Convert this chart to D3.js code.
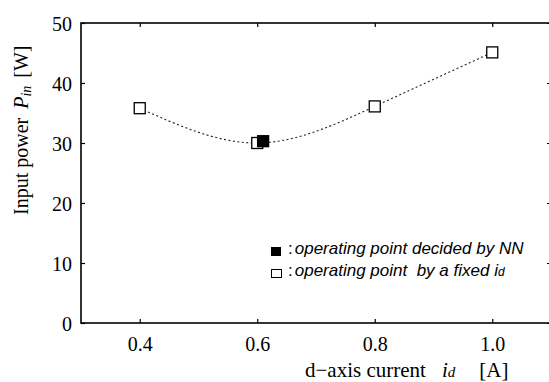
<!DOCTYPE html>
<html>
<head>
<meta charset="utf-8">
<script src="https://cdn.jsdelivr.net/npm/d3@7"></script>
<style>
  body { margin: 0; background: #fff; }
  svg { display: block; }
  text { white-space: pre; }
</style>
</head>
<body>
<div id="chart-area"></div>
<script>
// d-axis current [A] and input power [W]
var currents   = [0.4, 0.6, 0.8, 1.0];
var powers     = [35.8, 30.0, 36.1, 45.1];
// operating point decided by NN
var nnCurrent  = [0.61];
var nnPower    = [30.3];

var xTicks = [0.4, 0.6, 0.8, 1.0];
var yTicks = [0, 10, 20, 30, 40, 50];
var legendLabels = ["operating point decided by NN", "operating point  by a fixed "];

var svgWidth = 549, svgHeight = 382;
var margin = { top: 23, left: 81, bottom: 59, right: -2 };
var width  = svgWidth - margin.left - margin.right;
var height = svgHeight - margin.top - margin.bottom;

var svg = d3.select("#chart-area").append("svg")
            .attr("width", svgWidth)
            .attr("height", svgHeight);

var g = svg.append("g")
           .attr("transform", "translate(" + margin.left + "," + margin.top + ")");

var x = d3.scaleLinear().domain([0.3, 1.1]).range([0, width]);
var y = d3.scaleLinear().domain([0, 50]).range([height, 0]);

var serif = "'Liberation Serif', 'Times New Roman', serif";
var sans  = "'Liberation Sans', Arial, sans-serif";

// frame
g.append("rect")
 .attr("width", width).attr("height", height)
 .attr("fill", "none").attr("stroke", "#000").attr("stroke-width", 1.6);

// axes with inward ticks
var bottomAxis = g.append("g")
    .attr("transform", "translate(0," + height + ")")
    .call(d3.axisBottom(x).tickValues(xTicks).tickSizeInner(-4).tickSizeOuter(0)
            .tickPadding(14).tickFormat(d3.format(".1f")));
var topAxis = g.append("g")
    .call(d3.axisTop(x).tickValues(xTicks).tickSizeInner(-4).tickSizeOuter(0).tickFormat(""));
var leftAxis = g.append("g")
    .call(d3.axisLeft(y).tickValues(yTicks).tickSizeInner(-4).tickSizeOuter(0).tickPadding(9));
var rightAxis = g.append("g")
    .attr("transform", "translate(" + width + ",0)")
    .call(d3.axisRight(y).tickValues(yTicks).tickSizeInner(-4).tickSizeOuter(0).tickFormat(""));

[bottomAxis, topAxis, leftAxis, rightAxis].forEach(function(a) {
    a.select(".domain").remove();
    a.selectAll("line").attr("stroke", "#000").attr("stroke-width", 1.2);
    a.selectAll("text").attr("font-family", serif).attr("font-size", "20px").attr("fill", "#000");
});
leftAxis.selectAll("text").attr("dy", "0.35em");

// y-axis title (rotated, reads bottom to top)
var yTitle = svg.append("text")
    .attr("transform", "translate(28,215) rotate(-90)")
    .attr("text-anchor", "start")
    .attr("font-family", serif).attr("font-size", "20px");
yTitle.append("tspan").text("Input power");
yTitle.append("tspan").attr("dx", 9).attr("font-style", "italic").text("P");
yTitle.append("tspan").attr("font-style", "italic").attr("font-size", "14px").attr("dy", "3").text("in");
yTitle.append("tspan").attr("dx", 8).attr("dy", "-3").text("[W]");

// x-axis title
var xTitle = svg.append("text")
    .attr("x", 305).attr("y", 377)
    .attr("font-family", serif).attr("font-size", "21px");
xTitle.append("tspan").text("d\u2212axis current");
xTitle.append("tspan").attr("dx", 16).attr("font-style", "italic").text("i");
xTitle.append("tspan").attr("font-style", "italic").attr("font-size", "15px").text("d");
xTitle.append("tspan").attr("dx", 24).text("[A]");

// dotted curve through the fixed-id points
var pts = currents.map(function(c, i) { return [c, powers[i]]; });
var line = d3.line()
    .x(function(d) { return x(d[0]); })
    .y(function(d) { return y(d[1]); })
    .curve(d3.curveNatural);
g.append("path")
 .datum(pts)
 .attr("d", line)
 .attr("fill", "none")
 .attr("stroke", "#222")
 .attr("stroke-width", 1.1)
 .attr("stroke-dasharray", "2,2.5");

var sq = 11;
// open squares
g.selectAll(".open").data(pts).enter().append("rect")
 .attr("class", "open")
 .attr("x", function(d) { return x(d[0]) - sq / 2; })
 .attr("y", function(d) { return y(d[1]) - sq / 2; })
 .attr("width", sq).attr("height", sq)
 .attr("fill", "#fff").attr("stroke", "#000").attr("stroke-width", 1.3);

// filled square (NN)
g.selectAll(".nn").data(nnCurrent).enter().append("rect")
 .attr("class", "nn")
 .attr("x", function(d) { return x(d) - sq / 2; })
 .attr("y", function(d, i) { return y(nnPower[i]) - sq / 2; })
 .attr("width", sq).attr("height", sq)
 .attr("fill", "#000").attr("stroke", "#000").attr("stroke-width", 1.3);

// legend
var legend = svg.append("g").attr("transform", "translate(271,252)");
legend.append("rect").attr("x", 0).attr("y", -5).attr("width", 10).attr("height", 9)
      .attr("fill", "#000");
legend.append("rect").attr("x", 0.5).attr("y", 17.5).attr("width", 10).attr("height", 8)
      .attr("fill", "#fff").attr("stroke", "#000").attr("stroke-width", 1);

var l1 = legend.append("text").attr("x", 17).attr("y", 2)
    .attr("font-family", sans).attr("font-size", "17px");
l1.append("tspan").text(":");
l1.append("tspan").attr("dx", 2).attr("font-style", "italic").text(legendLabels[0]);

var l2 = legend.append("text").attr("x", 17).attr("y", 24)
    .attr("font-family", sans).attr("font-size", "17px");
l2.append("tspan").text(":");
l2.append("tspan").attr("dx", 2).attr("font-style", "italic").text(legendLabels[1]);
l2.append("tspan").attr("font-style", "italic").text("i");
l2.append("tspan").attr("font-style", "italic").attr("font-size", "12px").text("d");
</script>
</body>
</html>
